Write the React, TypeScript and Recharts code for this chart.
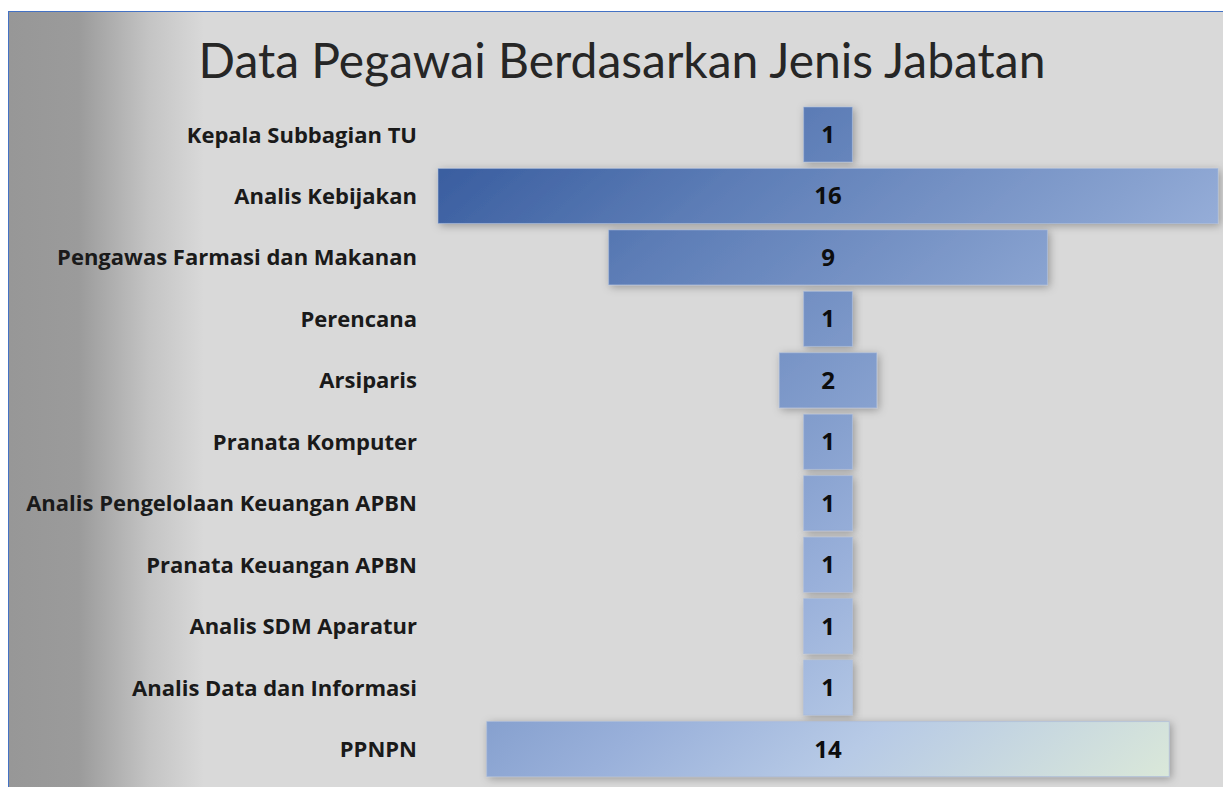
import { Bar, BarChart, LabelList, XAxis, YAxis } from 'recharts';

const JABATAN = [
  'Kepala Subbagian TU',
  'Analis Kebijakan',
  'Pengawas Farmasi dan Makanan',
  'Perencana',
  'Arsiparis',
  'Pranata Komputer',
  'Analis Pengelolaan Keuangan APBN',
  'Pranata Keuangan APBN',
  'Analis SDM Aparatur',
  'Analis Data dan Informasi',
  'PPNPN',
];

const JUMLAH = [1, 16, 9, 1, 2, 1, 1, 1, 1, 1, 14];

const MAX_JUMLAH = Math.max(...JUMLAH);

// funnel: an invisible spacer bar pushes each value bar to the centre
const chartData = JABATAN.map((name, i) => ({
  name,
  spacer: (MAX_JUMLAH - JUMLAH[i]) / 2,
  value: JUMLAH[i],
}));

const TITLE_FONT = 'Lato, "Open Sans", sans-serif';
const FONT = '"Open Sans", Lato, sans-serif';

function FunnelBar(props: any) {
  const { x, y, width, height } = props;
  if (!width || width <= 0) return null;
  return (
    <rect
      x={x}
      y={y}
      width={width}
      height={height}
      fill="url(#funnelGrad)"
      stroke="#a9bbdc"
      strokeOpacity={0.6}
      strokeWidth={1}
      filter="url(#barShadow)"
    />
  );
}

export default function App() {
  return (
    <div
      style={{
        position: 'fixed',
        left: 0,
        top: 0,
        width: 1223,
        height: 787,
        background: '#ffffff',
        overflow: 'hidden',
      }}
    >
      <div
        style={{
          position: 'absolute',
          left: 8,
          top: 11,
          width: 1215,
          height: 776,
          borderLeft: '1px solid #4472c4',
          borderTop: '1px solid #4472c4',
          background:
            'linear-gradient(to right, #979797 0px, #9b9b9b 70px, #c4c4c4 140px, #d9d9d9 195px, #d9d9d9 100%)',
        }}
      >
        <div
          style={{
            position: 'absolute',
            left: 0,
            width: 1226,
            top: 19,
            textAlign: 'center',
            fontFamily: TITLE_FONT,
            fontSize: 48,
            color: '#262626',
            lineHeight: '58px',
          }}
        >
          Data Pegawai Berdasarkan Jenis Jabatan
        </div>
        <div style={{ position: 'absolute', left: 0, top: 0 }}>
          <BarChart
            width={1214}
            height={775}
            data={chartData}
            layout="vertical"
            margin={{ top: 92, right: 5, bottom: 7, left: 0 }}
            barSize={55}
          >
            <defs>
              <linearGradient
                id="funnelGrad"
                gradientUnits="userSpaceOnUse"
                x1={429}
                y1={95}
                x2={1078}
                y2={874}
              >
                <stop offset="0" stopColor="#31569a" />
                <stop offset="0.25" stopColor="#5e7eb7" />
                <stop offset="0.5" stopColor="#87a1cf" />
                <stop offset="0.6" stopColor="#99b0da" />
                <stop offset="0.75" stopColor="#b7cae6" />
                <stop offset="1" stopColor="#dfecd7" />
              </linearGradient>
              <filter id="barShadow" x="-20%" y="-40%" width="140%" height="180%">
                <feDropShadow dx={2} dy={2} stdDeviation={4} floodColor="#000" floodOpacity={0.3} />
              </filter>
            </defs>
            <XAxis type="number" domain={[0, MAX_JUMLAH]} hide />
            <YAxis
              type="category"
              dataKey="name"
              width={429}
              axisLine={false}
              tickLine={false}
              tickSize={0}
              tickMargin={21}
              interval={0}
              tick={{ fill: '#1a1a1a', fontSize: 22, fontWeight: 700, fontFamily: FONT }}
            />
            <Bar dataKey="spacer" stackId="f" fill="transparent" isAnimationActive={false} />
            <Bar dataKey="value" stackId="f" shape={FunnelBar} isAnimationActive={false}>
              <LabelList
                dataKey="value"
                position="center"
                fill="#0d0d0d"
                fontSize={24}
                fontWeight={700}
                fontFamily={FONT}
              />
            </Bar>
          </BarChart>
        </div>
      </div>
    </div>
  );
}
